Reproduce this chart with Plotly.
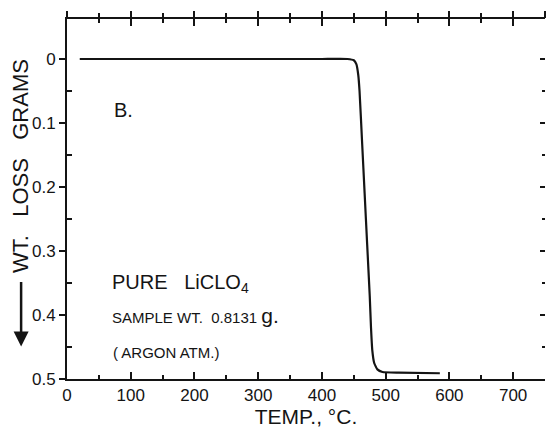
import plotly.graph_objects as go

# Thermogravimetric curve: temperature (deg C) vs weight loss (grams)
temp_c = [20, 100, 200, 300, 400, 440, 450, 454, 457, 459, 463, 467, 471,
          475, 477, 479, 482, 487, 495, 520, 585]
wt_loss_g = [0.0, 0.0, 0.0, 0.0, 0.0, 0.0, 0.002, 0.008, 0.025, 0.05, 0.13,
             0.21, 0.29, 0.37, 0.42, 0.455, 0.475, 0.485, 0.489, 0.490, 0.491]

x_ticks = [0, 100, 200, 300, 400, 500, 600, 700]
x_tick_labels = ["0", "100", "200", "300", "400", "500", "600", "700"]
y_ticks = [0, 0.1, 0.2, 0.3, 0.4, 0.5]
y_tick_labels = ["0", "0.1", "0.2", "0.3", "0.4", "0.5"]

INK = "#141414"
FONT = "Liberation Sans, Arial, sans-serif"

fig = go.Figure()
fig.add_trace(go.Scatter(x=temp_c, y=wt_loss_g, mode="lines",
                         line=dict(color=INK, width=2.2, shape="spline", smoothing=0.4),
                         showlegend=False, hoverinfo="skip"))
# invisible traces so the extra axes are drawn
fig.add_trace(go.Scatter(x=[0], y=[0], xaxis="x2", yaxis="y", mode="markers",
                         marker=dict(opacity=0), showlegend=False, hoverinfo="skip"))
fig.add_trace(go.Scatter(x=[0], y=[0], xaxis="x", yaxis="y2", mode="markers",
                         marker=dict(opacity=0), showlegend=False, hoverinfo="skip"))

xr = [0, 750]
yr = [0.5, -0.0625]

fig.update_layout(
    width=549, height=436,
    margin=dict(l=67, r=4, t=19, b=57),
    paper_bgcolor="white", plot_bgcolor="white",
    font=dict(family=FONT, color=INK, size=17),
    xaxis=dict(range=xr, tickmode="array", tickvals=x_ticks, ticktext=x_tick_labels,
               ticks="inside", ticklen=7, tickwidth=2, tickcolor=INK,
               showline=True, linecolor=INK, linewidth=2, mirror="ticks",
               showgrid=False, zeroline=False,
               minor=dict(tickmode="array", tickvals=[50, 150, 250, 350, 450, 550, 650, 750],
                          ticks="inside", ticklen=4, tickwidth=2, tickcolor=INK),
               tickfont=dict(size=17),
               title=dict(text="TEMP., °C.", font=dict(size=21), standoff=4)),
    xaxis2=dict(range=xr, overlaying="x", side="top", tickmode="array",
                tickvals=x_ticks + [750], ticks="outside", ticklen=7, tickwidth=2,
                tickcolor=INK, showticklabels=False, showline=False, showgrid=False,
                zeroline=False,
                minor=dict(tickmode="array", tickvals=[50, 150, 250, 350, 450, 550, 650],
                           ticks="outside", ticklen=5, tickwidth=2, tickcolor=INK)),
    yaxis=dict(range=yr, tickmode="array", tickvals=y_ticks, ticktext=y_tick_labels,
               ticks="outside", ticklen=6, tickwidth=2, tickcolor=INK,
               showline=True, linecolor=INK, linewidth=2,
               showgrid=False, zeroline=False,
               minor=dict(tickmode="array", tickvals=[0.05, 0.15, 0.25, 0.35, 0.45],
                          ticks="inside", ticklen=5, tickwidth=2, tickcolor=INK),
               tickfont=dict(size=17)),
    yaxis2=dict(range=yr, overlaying="y", side="right", tickmode="array",
                tickvals=[0, 0.1, 0.2, 0.3, 0.4], ticks="inside", ticklen=5,
                tickwidth=2, tickcolor=INK, showticklabels=False, showline=False,
                showgrid=False, zeroline=False,
                minor=dict(tickmode="array", tickvals=[0.05, 0.15, 0.25, 0.35, 0.45],
                           ticks="inside", ticklen=3, tickwidth=2, tickcolor=INK)),
)

notes = [
    dict(x=70, y=0.08, text="B.", size=20),
    dict(x=67, y=0.35, text="PURE &nbsp;&nbsp;LiCLO<sub>4</sub>", size=20),
    dict(x=67, y=0.40, text="SAMPLE WT. &nbsp;0.8131 <span style='font-size:21px'>g.</span>", size=15),
    dict(x=69, y=0.458, text="( ARGON ATM.)", size=15),
]
for n in notes:
    fig.add_annotation(x=n["x"], y=n["y"], xref="x", yref="y", text=n["text"],
                       showarrow=False, xanchor="left", yanchor="middle",
                       font=dict(size=n["size"], color=INK, family=FONT))

# rotated y-axis title with a downward arrow beneath it
fig.add_annotation(x=-0.096, y=0.592, xref="paper", yref="paper",
                   xanchor="center", yanchor="middle",
                   text="WT. &nbsp;&nbsp;LOSS &nbsp;&nbsp;GRAMS", textangle=-90, showarrow=False,
                   font=dict(size=22, color=INK, family=FONT))
fig.add_annotation(x=-0.096, y=0.09, xref="paper", yref="paper", text="",
                   showarrow=True, ax=0, ay=-66, axref="pixel", ayref="pixel",
                   arrowhead=2, arrowsize=1.2, arrowwidth=2.5, arrowcolor=INK)

fig.write_html("out.html")
